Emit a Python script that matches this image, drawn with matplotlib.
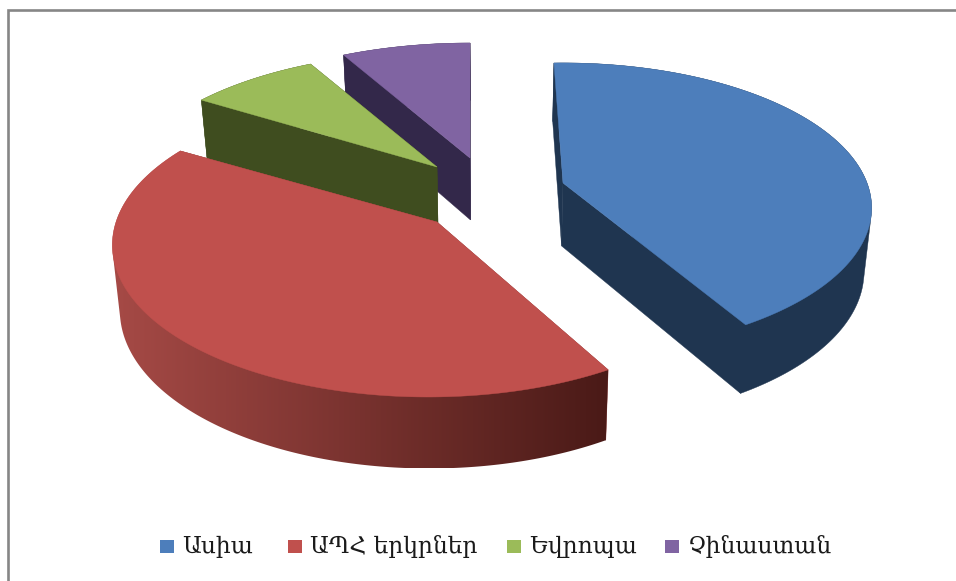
import numpy as np
import matplotlib
matplotlib.use("Agg")
import matplotlib.pyplot as plt
from matplotlib.patches import Polygon, Rectangle

categories = ["Ասիա", "ԱՊՀ երկրներ", "Եվրոպա", "Չինաստան"]
values = [42, 42, 8, 8]
top_colors = ["#4D7EBB", "#C0504D", "#9BBB59", "#8064A2"]
wall_colors = ["#1F3550", "#8A3A37", "#3F4D1F", "#33284A"]
grad_left = "#A64A46"
grad_right = "#4A1A17"
apexes = [(563, 183), (437, 222), (437, 167), (470, 158)]
rim_a = [304.0, 312.0, 310.0, 310.0]
rim_b = [140.7, 148.4, 138.8, 138.8]
rim_k = [0.172, 0.152, 0.207, 0.207]
rim_rot = [2.0, 1.3, 0.0, 0.0]
rim_dx = [0.0, -9.0, 0.0, 0.0]
legend_sw = [160, 288, 507, 665]
legend_tx = [182, 310, 529, 688]

VX, SX = 490.0, 0.98


def project(theta, i):
    x, y = np.cos(theta), np.sin(theta)
    w = 1 + rim_k[i] * y
    ax_, ay_ = apexes[i]
    return np.column_stack([ax_ + rim_dx[i] + rim_a[i] * x / w, ay_ - rim_b[i] * y / w])


def lower(pts):
    pts = np.atleast_2d(pts)
    X = VX + (pts[:, 0] - VX) * SX
    Y = pts[:, 1] + 58 + 0.04 * (pts[:, 1] - 60)
    return np.column_stack([X, Y])


def hull(points):
    pts = sorted(map(tuple, points))

    def half(seq):
        out = []
        for p in seq:
            while len(out) >= 2 and ((out[-1][0] - out[-2][0]) * (p[1] - out[-2][1])
                                     - (out[-1][1] - out[-2][1]) * (p[0] - out[-2][0])) <= 0:
                out.pop()
            out.append(p)
        return out[:-1]

    return np.array(half(pts) + half(pts[::-1]))


def rgb(c):
    return np.array(matplotlib.colors.to_rgb(c))


fig = plt.figure(figsize=(9.56, 5.81), dpi=100)
ax = fig.add_axes([0, 0, 1, 1])

# frame
ax.plot([8.5, 8.5, 956], [581, 9.5, 9.5], color="#868686", lw=1.9, solid_joinstyle="miter")

# slice angles: clockwise from the top
fr = np.array(values) / sum(values) * 2 * np.pi
ends = np.pi / 2 - np.cumsum(fr)
starts = ends + fr

z = 2
for i in (3, 2, 1, 0):
    th = np.linspace(starts[i], ends[i], 200) + np.deg2rad(rim_rot[i])
    rim = project(th, i)
    apx = np.array([apexes[i]], dtype=float)
    low_apx = lower(apx)
    low_rim = lower(rim)
    for j in (0, -1):
        poly = np.vstack([apx, rim[j], low_rim[j], low_apx])
        ax.add_patch(Polygon(poly, closed=True, fc=wall_colors[i], ec=wall_colors[i],
                             lw=0.3, zorder=z))
    z += 1
    outer = hull(np.vstack([rim, low_rim]))
    if i == 1:
        xmin, xmax = outer[:, 0].min(), outer[:, 0].max()
        ymin, ymax = outer[:, 1].min(), outer[:, 1].max()
        t = np.linspace(0, 1, 256)[:, None]
        grad = (rgb(grad_left) * (1 - t) + rgb(grad_right) * t)[None, :, :]
        im = ax.imshow(grad, extent=(xmin, xmax, ymax, ymin), aspect="auto",
                       interpolation="bilinear", zorder=z)
        patch = Polygon(outer, closed=True, fc="none", ec="none")
        ax.add_patch(patch)
        im.set_clip_path(patch)
    else:
        ax.add_patch(Polygon(outer, closed=True, fc=wall_colors[i], ec=wall_colors[i],
                             lw=0.3, zorder=z))
    z += 1
    ax.add_patch(Polygon(np.vstack([apx, rim]), closed=True, fc=top_colors[i],
                         ec=top_colors[i], lw=0.3, zorder=z))
    z += 1

ax.set_xlim(0, 956)
ax.set_ylim(581, 0)
ax.axis("off")

# legend
for i, name in enumerate(categories):
    ax.add_patch(Rectangle((legend_sw[i], 540), 14, 13, fc=top_colors[i], ec="none", zorder=50))
    ax.text(legend_tx[i], 547, name, fontsize=16.8, family=["DejaVu Serif", "DejaVu Sans"],
            va="center", ha="left", color="#1a1a1a", zorder=50)

fig.savefig("out.png", dpi=100)
